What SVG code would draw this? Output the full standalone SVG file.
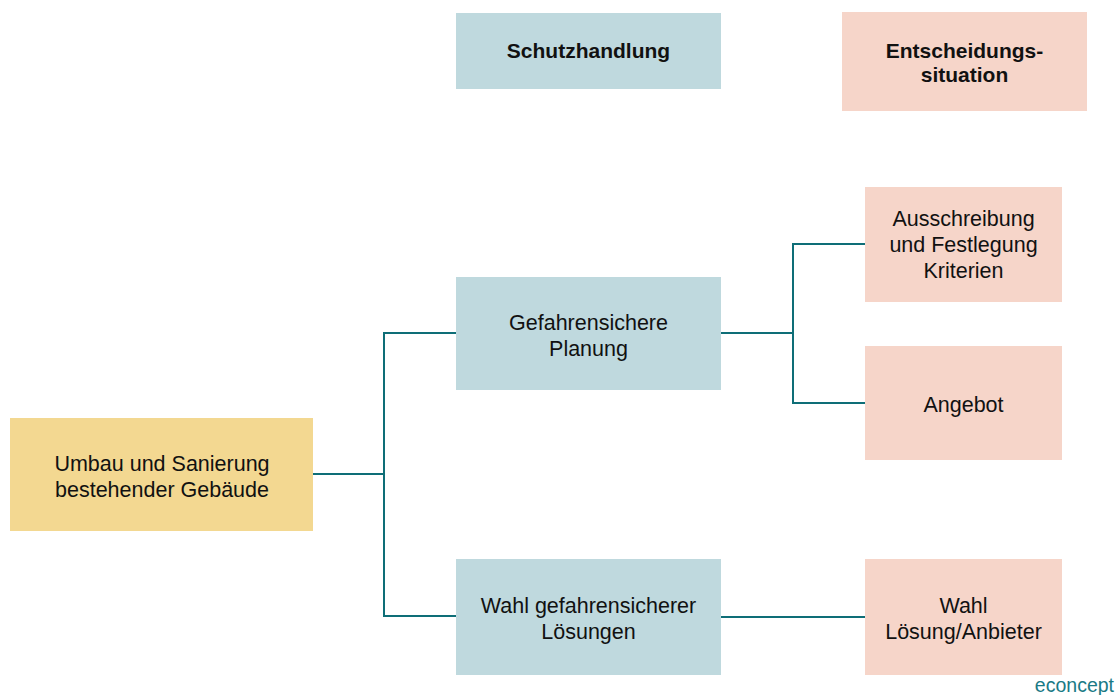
<svg xmlns="http://www.w3.org/2000/svg" width="1117" height="695" viewBox="0 0 1117 695">
<style>
.t{font-family:"Liberation Sans",Arial,sans-serif;font-size:21.5px;fill:#111;text-anchor:middle}
.b{font-weight:bold;font-size:21px}
.blue{fill:#BFD9DE}
.pink{fill:#F6D5C9}
.yel{fill:#F3D891}
.c{stroke:#0E6E77;stroke-width:2;fill:none}
</style>
<rect width="1117" height="695" fill="#fff"/>
<g id="connectors">
<polyline class="c" points="313,474 384,474"/>
<polyline class="c" points="456,333 384,333 384,616 456,616"/>
<polyline class="c" points="721,333 793,333"/>
<polyline class="c" points="865,244 793,244 793,403 865,403"/>
<polyline class="c" points="721,617 865,617"/>
</g>
<g id="schutzhandlung"><rect class="blue" x="456" y="13" width="265" height="76"/><text class="t b" x="588.5" y="58">Schutzhandlung</text></g>
<g id="entscheidung"><rect class="pink" x="842" y="12" width="245" height="99"/><text class="t b" x="964.5" y="58">Entscheidungs-</text><text class="t b" x="964.5" y="82">situation</text></g>
<g id="umbau"><rect class="yel" x="10" y="418" width="303" height="113"/><text class="t" x="162" y="471">Umbau und Sanierung</text><text class="t" x="162" y="497">bestehender Gebäude</text></g>
<g id="planung"><rect class="blue" x="456" y="277" width="265" height="113"/><text class="t" x="588.5" y="330">Gefahrensichere</text><text class="t" x="588.5" y="356">Planung</text></g>
<g id="wahl"><rect class="blue" x="456" y="559" width="265" height="116"/><text class="t" x="588.5" y="613">Wahl gefahrensicherer</text><text class="t" x="588.5" y="639">Lösungen</text></g>
<g id="ausschreibung"><rect class="pink" x="865" y="187" width="197" height="115"/><text class="t" x="963.5" y="226">Ausschreibung</text><text class="t" x="963.5" y="252">und Festlegung</text><text class="t" x="963.5" y="278">Kriterien</text></g>
<g id="angebot"><rect class="pink" x="865" y="346" width="197" height="114"/><text class="t" x="963.5" y="412">Angebot</text></g>
<g id="loesung"><rect class="pink" x="865" y="559" width="197" height="116"/><text class="t" x="963.5" y="613">Wahl</text><text class="t" x="963.5" y="639">Lösung/Anbieter</text></g>
<text x="1114" y="692" style="font-family:'Liberation Sans',Arial,sans-serif;font-size:19.5px;fill:#1A7A85;text-anchor:end">econcept</text>
</svg>
